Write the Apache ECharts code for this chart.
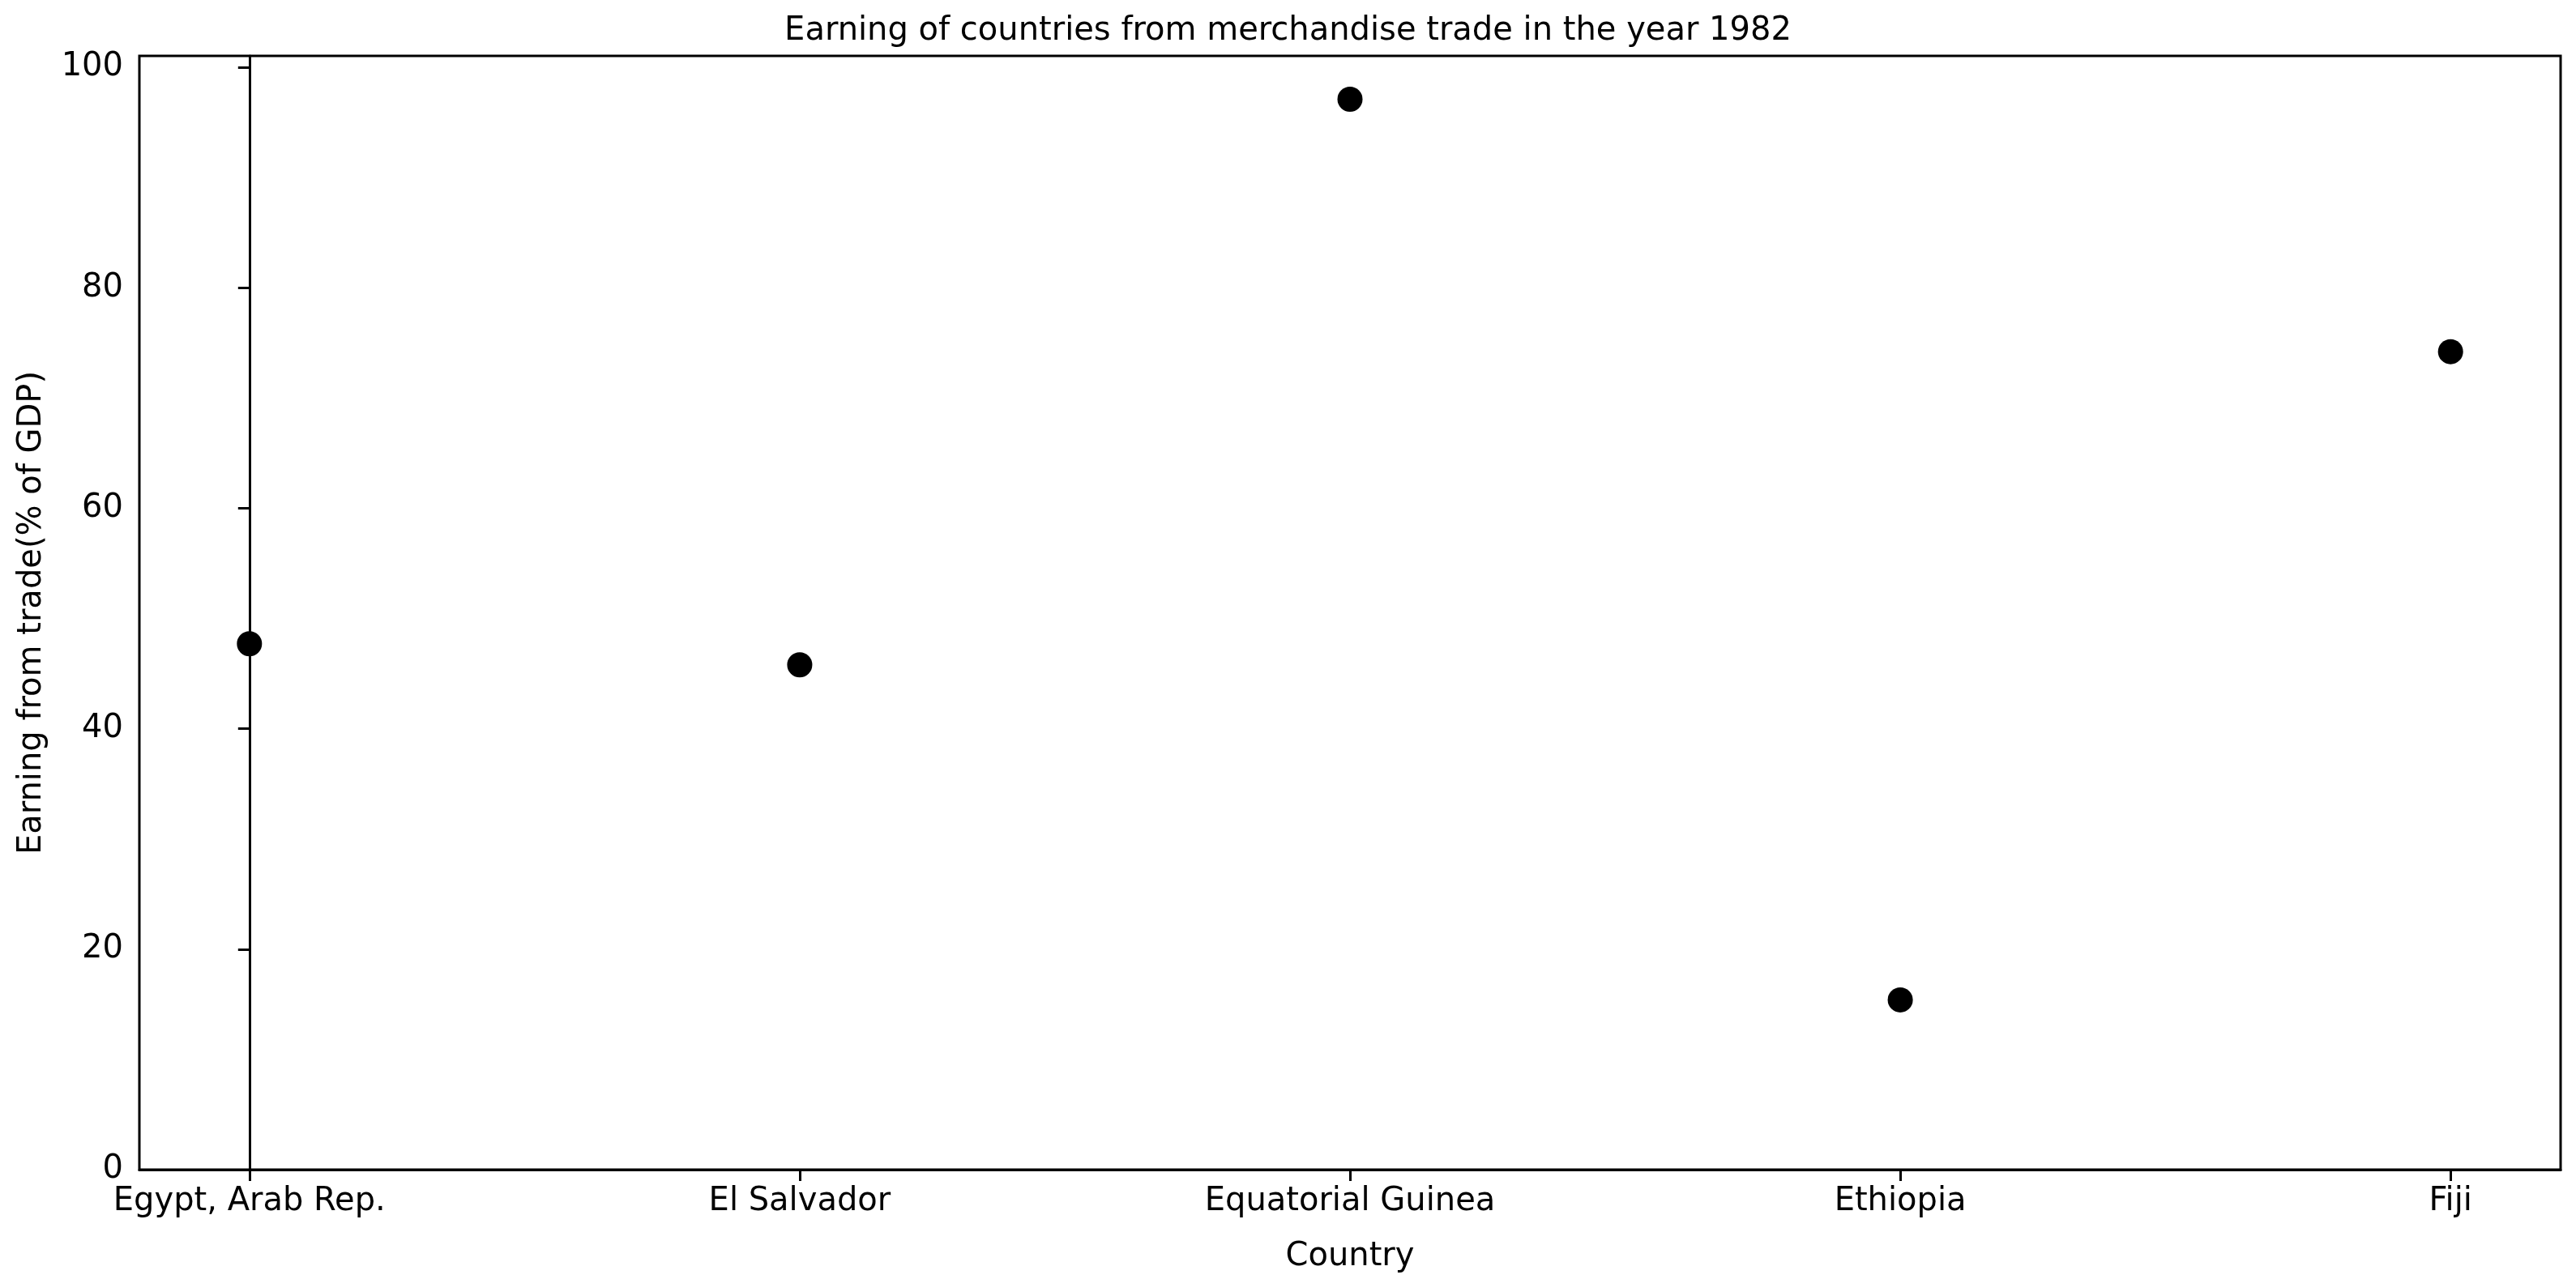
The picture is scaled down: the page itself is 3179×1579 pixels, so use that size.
<!DOCTYPE html>
<html>
<head>
<meta charset="utf-8">
<script src="https://cdn.jsdelivr.net/npm/echarts@6/dist/echarts.min.js"></script>
<style>html,body{margin:0;padding:0;background:#fff}#chart{width:3179px;height:1579px}</style>
</head>
<body>
<div id="chart"></div>
<script>
var countries = ['Egypt, Arab Rep.', 'El Salvador', 'Equatorial Guinea', 'Ethiopia', 'Fiji'];
var earnings = [47.7, 45.8, 97.1, 15.4, 74.2];
var yTicks = [0, 20, 40, 60, 80, 100];

var font = 'DejaVu Sans';
var myChart = echarts.init(document.getElementById('chart'));
var option = {
    title: {
        text: 'Earning of countries from merchandise trade in the year 1982',
        left: 'center',
        top: 14,
        textStyle: { fontFamily: font, fontSize: 40, fontWeight: 'normal', color: '#000' }
    },
    grid: { left: 172, right: 19, top: 69, bottom: 135 },
    xAxis: {
        type: 'value',
        min: -0.2,
        max: 4.2,
        name: 'Country',
        nameLocation: 'middle',
        nameGap: 88,
        nameTextStyle: { fontFamily: font, fontSize: 40, color: '#000' },
        axisLine: { show: true, onZero: false, lineStyle: { color: '#000', width: 3 } },
        axisTick: { show: true, length: 14, lineStyle: { color: '#000', width: 3 }, customValues: [0, 1, 2, 3, 4] },
        axisLabel: {
            fontFamily: font, fontSize: 40, color: '#000', margin: 20,
            customValues: [0, 1, 2, 3, 4],
            formatter: function (v) { return countries[Math.round(v)]; }
        },
        splitLine: { show: false }
    },
    yAxis: {
        type: 'value',
        min: 0,
        max: 101.03,
        name: 'Earning from trade(% of GDP)',
        nameLocation: 'middle',
        nameGap: 112,
        nameTextStyle: { fontFamily: font, fontSize: 40, color: '#000' },
        axisLine: { show: true, lineStyle: { color: '#000', width: 3 } },
        axisTick: { show: true, length: 14, lineStyle: { color: '#000', width: 3 }, customValues: yTicks },
        axisLabel: { fontFamily: font, fontSize: 40, color: '#000', margin: 20, customValues: yTicks },
        splitLine: { show: false }
    },
    series: [{
        type: 'scatter',
        symbolSize: 31,
        itemStyle: { color: '#000', opacity: 1 },
        data: earnings.map(function (v, i) { return [i, v]; })
    }],
    graphic: [{
        type: 'rect',
        shape: { x: 172, y: 69, width: 3179 - 172 - 19, height: 1579 - 69 - 135 },
        style: { fill: 'none', stroke: '#000', lineWidth: 3 },
        silent: true
    }]
};
myChart.setOption(option);
</script>
</body>
</html>
